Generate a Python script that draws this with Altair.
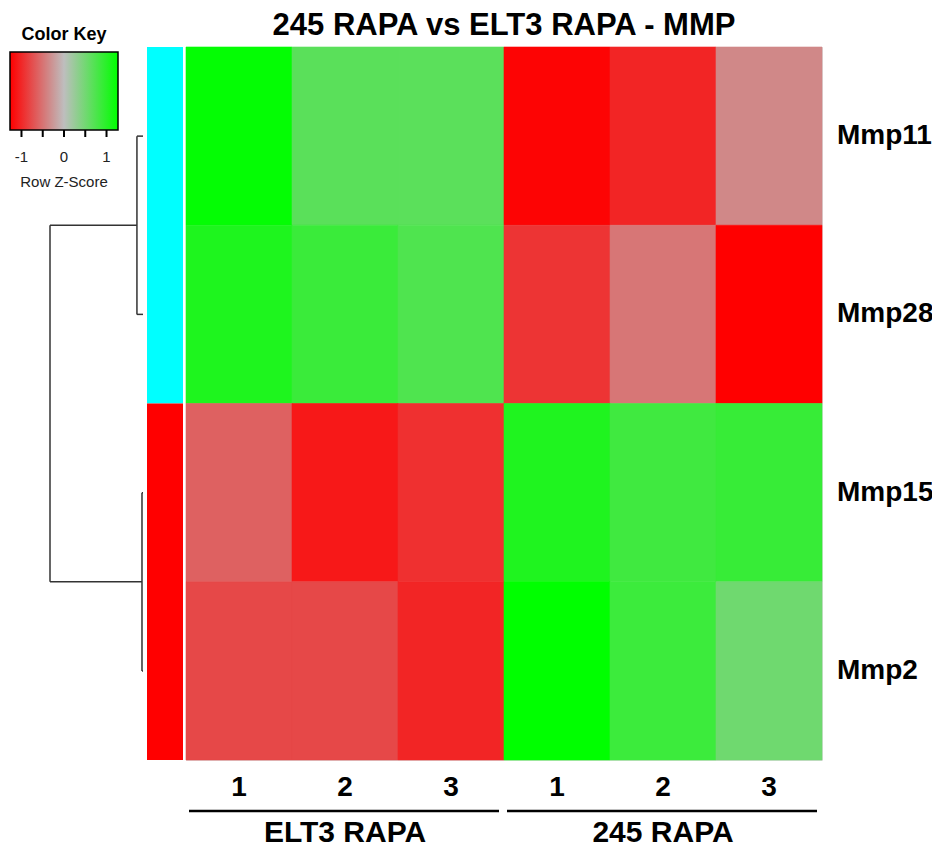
import altair as alt
import pandas as pd

# ---------------- data ----------------
genes = ["Mmp11", "Mmp28", "Mmp15", "Mmp2"]
samples = ["1", "2", "3", "1", "2", "3"]
groups = ["ELT3 RAPA", "245 RAPA"]
group_size = [3, 3]
zscores = [
    [1.24, 0.67, 0.66, -1.24, -1.02, -0.36],
    [1.07, 0.88, 0.74, -0.92, -0.48, -1.27],
    [-0.62, -1.11, -0.95, 1.06, 0.84, 0.90],
    [-0.79, -0.79, -1.02, 1.27, 0.87, 0.53],
]
row_cluster = ["1", "1", "2", "2"]
cluster_colors = ["#00FFFF", "#FF0000"]
# dendrogram merges: (child a, child b, height); int = leaf row, "mK" = merge K
merges = [(0, 1, 0.30), (2, 3, 0.05), ("m0", "m1", 4.6)]
key_lim = 1.27
key_ticks = [-1, -0.5, 0, 0.5, 1]
key_labels = [-1, 0, 1]
title = "245 RAPA vs ELT3 RAPA - MMP"

FONT = "Liberation Sans"
W, H = 636, 713

# ---------------- tables ----------------
cells = []
for r, g in enumerate(genes):
    for c, s in enumerate(samples):
        cells.append({"gene": g, "sample": s, "x0": c, "x1": c + 1,
                      "y0": r, "y1": r + 1, "z": zscores[r][c]})
cells = pd.DataFrame(cells)

rows = pd.DataFrame({"gene": genes, "y0": list(range(len(genes))),
                     "y1": [i + 1 for i in range(len(genes))],
                     "yc": [i + 0.5 for i in range(len(genes))],
                     "cluster": row_cluster})

cols = pd.DataFrame({"sample": samples, "xc": [i + 0.5 for i in range(len(samples))]})

gstart, acc = [], 0
for n in group_size:
    gstart.append(acc)
    acc += n
grp = pd.DataFrame({"group": groups, "gs": gstart,
                    "ge": [s + n for s, n in zip(gstart, group_size)],
                    "gc": [s + n / 2 for s, n in zip(gstart, group_size)]})

# dendrogram segments
node = {}
segs = []
def get(ch):
    if isinstance(ch, int):
        return (ch + 0.5, 0.0)
    return node[ch]
for k, (a, b, h) in enumerate(merges):
    pa, ha = get(a)
    pb, hb = get(b)
    segs.append({"h": h, "h2": ha, "ya": pa, "yb": pa})
    segs.append({"h": h, "h2": hb, "ya": pb, "yb": pb})
    segs.append({"h": h, "h2": h, "ya": pa, "yb": pb})
    node["m%d" % k] = ((pa + pb) / 2, h)
segs = pd.DataFrame(segs)

ticks = pd.DataFrame({"t": key_ticks})
subtitle = pd.DataFrame({"t": ["Row Z-Score"]})
titles = pd.DataFrame({"t": [title]})

# ---------------- scales ----------------
xs = alt.Scale(domain=[0, len(samples)], nice=False, zero=False)
ys = alt.Scale(domain=[0, len(genes)], nice=False, zero=False, reverse=True)
zscale = alt.Scale(domain=[-key_lim, 0, key_lim],
                   range=["#FF0000", "#BEBEBE", "#00FF00"],
                   interpolate="rgb")
cscale = alt.Scale(domain=["1", "2"], range=cluster_colors)

heat = alt.Chart(cells).mark_rect(strokeWidth=0.6).encode(
    x=alt.X("x0:Q", scale=xs, axis=None),
    x2="x1:Q",
    y=alt.Y("y0:Q", scale=ys, axis=None),
    y2="y1:Q",
    color=alt.Color(
        "z:Q",
        scale=zscale,
        legend=alt.Legend(
            title="Color Key", orient="none", direction="horizontal",
            legendX=-176, legendY=-21, padding=0,
            titleFont=FONT, titleFontSize=18, titleFontWeight="bold",
            titleColor="black", titleAnchor="middle", titlePadding=8,
            gradientLength=108, gradientThickness=78,
            gradientStrokeColor="black", gradientStrokeWidth=1.5,
            values=key_labels, labelFont=FONT, labelFontSize=15,
            labelColor="#222", labelOffset=20, labelOverlap=False,
            labelExpr="replace(datum.label, '\u2212', '-')",
        ),
    ),
    stroke=alt.Stroke("z:Q", scale=zscale, legend=None),
)

# one continuous block per row cluster
side = alt.Chart(rows).transform_aggregate(
    y0="min(y0)", y1="max(y1)", groupby=["cluster"]
).mark_rect().encode(
    x=alt.value(-39), x2=alt.value(-3),
    y=alt.Y("y0:Q", scale=ys, axis=None), y2="y1:Q",
    color=alt.Color("cluster:N", scale=cscale, legend=None),
)

dendro = alt.Chart(segs).mark_rule(color="#333333", strokeWidth=1.5).encode(
    x=alt.X("h:Q", scale=alt.Scale(domain=[merges[-1][2], 0], range=[-136, -43],
                                   nice=False, zero=False), axis=None),
    x2="h2:Q",
    y=alt.Y("ya:Q", scale=ys, axis=None), y2="yb:Q",
)

row_lab = alt.Chart(rows).mark_text(align="left", baseline="middle", font=FONT,
                                    fontSize=28, fontWeight="bold", color="black").encode(
    x=alt.value(W + 15),
    y=alt.Y("yc:Q", scale=ys, axis=None),
    text="gene:N",
)

col_lab = alt.Chart(cols).mark_text(align="center", baseline="middle", font=FONT,
                                    fontSize=28, fontWeight="bold", color="black").encode(
    x=alt.X("xc:Q", scale=xs, axis=None),
    y=alt.value(741),
    text="sample:N",
)

grp_line = alt.Chart(grp).mark_rule(color="black", strokeWidth=2.5,
                                    xOffset=3, x2Offset=-5).encode(
    x=alt.X("gs:Q", scale=xs, axis=None), x2="ge:Q",
    y=alt.value(764),
)

grp_lab = alt.Chart(grp).mark_text(align="center", baseline="middle", font=FONT,
                                   fontSize=30, fontWeight="bold", color="black").encode(
    x=alt.X("gc:Q", scale=xs, axis=None),
    y=alt.value(786),
    text="group:N",
)

key_tick = alt.Chart(ticks).mark_rule(color="black", strokeWidth=2).encode(
    x=alt.X("t:Q", scale=alt.Scale(domain=[-key_lim, key_lim], range=[-176, -68],
                                   nice=False, zero=False), axis=None),
    y=alt.value(81), y2=alt.value(90),
)

key_sub = alt.Chart(subtitle).mark_text(align="center", baseline="middle", font=FONT,
                                        fontSize=15, color="#222").encode(
    x=alt.value(-122), y=alt.value(135), text="t:N",
)

title_txt = alt.Chart(titles).mark_text(align="center", baseline="alphabetic", font=FONT,
                                        fontSize=31, fontWeight="bold", color="black").encode(
    x=alt.value(W / 2), y=alt.value(-12), text="t:N",
)

chart = alt.layer(
    heat, side, dendro, row_lab, col_lab, grp_line, grp_lab, key_tick, key_sub, title_txt
).resolve_scale(
    x="independent", color="independent"
).properties(
    width=W, height=H,
    autosize=alt.AutoSizeParams(type="none"),
    padding={"left": 178, "top": 39, "right": 110, "bottom": 90},
).configure_view(stroke=None).configure(background="white")

chart.save("out.html", embed_options={"renderer": "svg", "actions": False})
